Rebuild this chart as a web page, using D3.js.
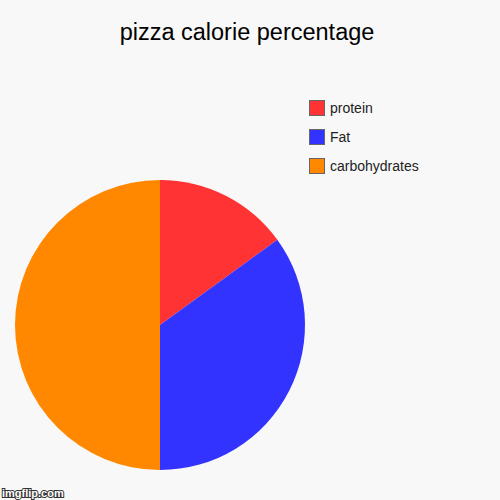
<!DOCTYPE html>
<html>
<head>
<meta charset="utf-8">
<script src="https://cdn.jsdelivr.net/npm/d3@7"></script>
<style>
  body { margin: 0; background: #f8f8f8; }
  svg { display: block; font-family: "Liberation Sans", Arial, sans-serif; }
</style>
</head>
<body>
<div id="chart"></div>
<script>
// Chart data
const categories = ["protein", "Fat", "carbohydrates"];
const values = [15, 35, 50];
const colors = ["#ff3333", "#3333ff", "#ff8800"];

const width = 500, height = 500;
const cx = 160, cy = 325, radius = 145;

const svg = d3.select("#chart")
  .append("svg")
  .attr("width", width)
  .attr("height", height);

svg.append("rect")
  .attr("width", width)
  .attr("height", height)
  .attr("fill", "#f8f8f8");

// Title
svg.append("text")
  .attr("x", 247)
  .attr("y", 40)
  .attr("text-anchor", "middle")
  .attr("font-size", 23.5)
  .attr("fill", "#000")
  .text("pizza calorie percentage");

const color = d3.scaleOrdinal().domain(categories).range(colors);

const pie = d3.pie().sort(null).value(d => d.value);
const arc = d3.arc().innerRadius(0).outerRadius(radius);

const data = categories.map((c, i) => ({ name: c, value: values[i] }));

svg.append("g")
  .attr("transform", `translate(${cx},${cy})`)
  .selectAll("path")
  .data(pie(data))
  .join("path")
  .attr("d", arc)
  .attr("fill", d => color(d.data.name));

// Legend
const legend = svg.append("g")
  .attr("transform", "translate(309,100)");

const item = legend.selectAll("g")
  .data(categories)
  .join("g")
  .attr("transform", (d, i) => `translate(0,${i * 29})`);

item.append("rect")
  .attr("x", 0.5)
  .attr("y", 0.5)
  .attr("width", 15)
  .attr("height", 15)
  .attr("fill", d => color(d))
  .attr("stroke", "#666")
  .attr("stroke-width", 1);

item.append("text")
  .attr("x", 21)
  .attr("y", 13)
  .attr("font-size", 14)
  .attr("fill", "#222")
  .text(d => d);

// Watermark
svg.append("text")
  .attr("x", 2)
  .attr("y", 497)
  .attr("font-size", 11)
  .attr("font-weight", "bold")
  .attr("fill", "#fff")
  .attr("stroke", "#333")
  .attr("stroke-width", 2)
  .attr("paint-order", "stroke")
  .text("imgflip.com");
</script>
</body>
</html>
